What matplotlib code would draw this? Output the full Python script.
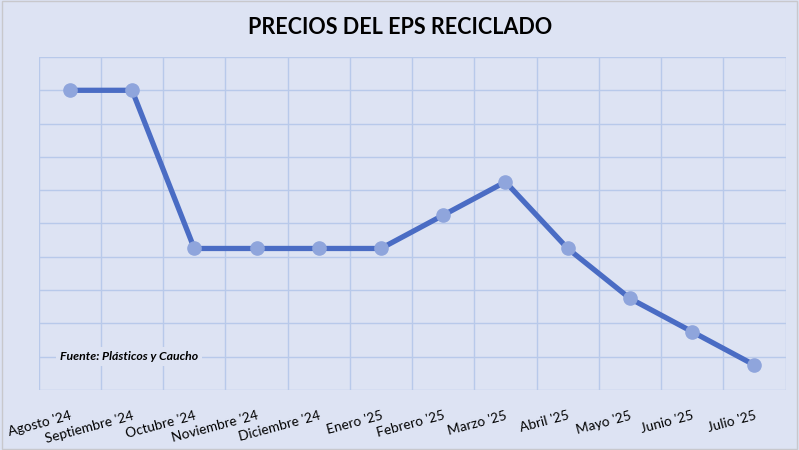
import matplotlib
matplotlib.use("Agg")
import matplotlib.pyplot as plt
import numpy as np
from matplotlib.patches import Rectangle

months = ["Agosto '24", "Septiembre '24", "Octubre '24", "Noviembre '24", "Diciembre '24",
          "Enero '25", "Febrero '25", "Marzo '25", "Abril '25", "Mayo '25", "Junio '25", "Julio '25"]
prices = [9.0, 9.0, 4.25, 4.25, 4.25, 4.25, 5.25, 6.25, 4.25, 2.75, 1.75, 0.75]
title = "PRECIOS DEL EPS RECICLADO"
source = "Fuente: Plásticos y Caucho"

bg = "#dde3f3"
grid = "#b8c9ea"
line_c = "#4a6cc4"
marker_c = "#8fa5dc"

plt.rcParams['font.family'] = ['Lato', 'DejaVu Sans']

fig = plt.figure(figsize=(7.99, 4.5), dpi=100, facecolor=bg)
ax = fig.add_axes([38.7/799, 1 - 390/450, (785.5 - 38.7)/799, (390 - 57)/450])
ax.set_facecolor(bg)

x = np.arange(len(months))
ax.plot(x, prices, color=line_c, lw=3.8, zorder=3, solid_capstyle='round')
ax.plot(x, prices, 'o', color=marker_c, ms=9.5, zorder=4)

ax.set_xlim(-0.5, len(months) - 0.5)
ax.set_ylim(0, 10)
ax.set_yticks(np.arange(0, 11, 1))
ax.set_xticks(np.arange(-0.5, len(months), 1), minor=True)
ax.set_xticks(x)
ax.set_xticklabels(months, rotation=15, ha='right', rotation_mode='anchor', fontsize=9.8)
ax.set_yticklabels([])
ax.tick_params(axis='both', which='both', length=0)
ax.tick_params(axis='x', pad=14)
ax.grid(True, axis='y', which='major', color=grid, lw=1)
ax.grid(True, axis='x', which='minor', color=grid, lw=1)
ax.grid(False, axis='x', which='major')
for s in ax.spines.values():
    s.set_visible(False)
ax.set_axisbelow(True)

fig.text(400/799, 1 - 27/450, title, ha='center', va='center', fontsize=15.5,
         fontweight='bold', color='black')

ax.text(-0.16, 1.0, source, transform=ax.transData, fontsize=8.8, fontweight='bold',
        fontstyle='italic', va='center', ha='left',
        bbox=dict(facecolor=bg, edgecolor='none', pad=3), zorder=5)

fig.patches.append(Rectangle((0.002, 0.003), 0.996, 0.995, transform=fig.transFigure,
                             fill=False, edgecolor='#c8c8cc', lw=1))

fig.savefig("out.png", dpi=100, facecolor=bg)
